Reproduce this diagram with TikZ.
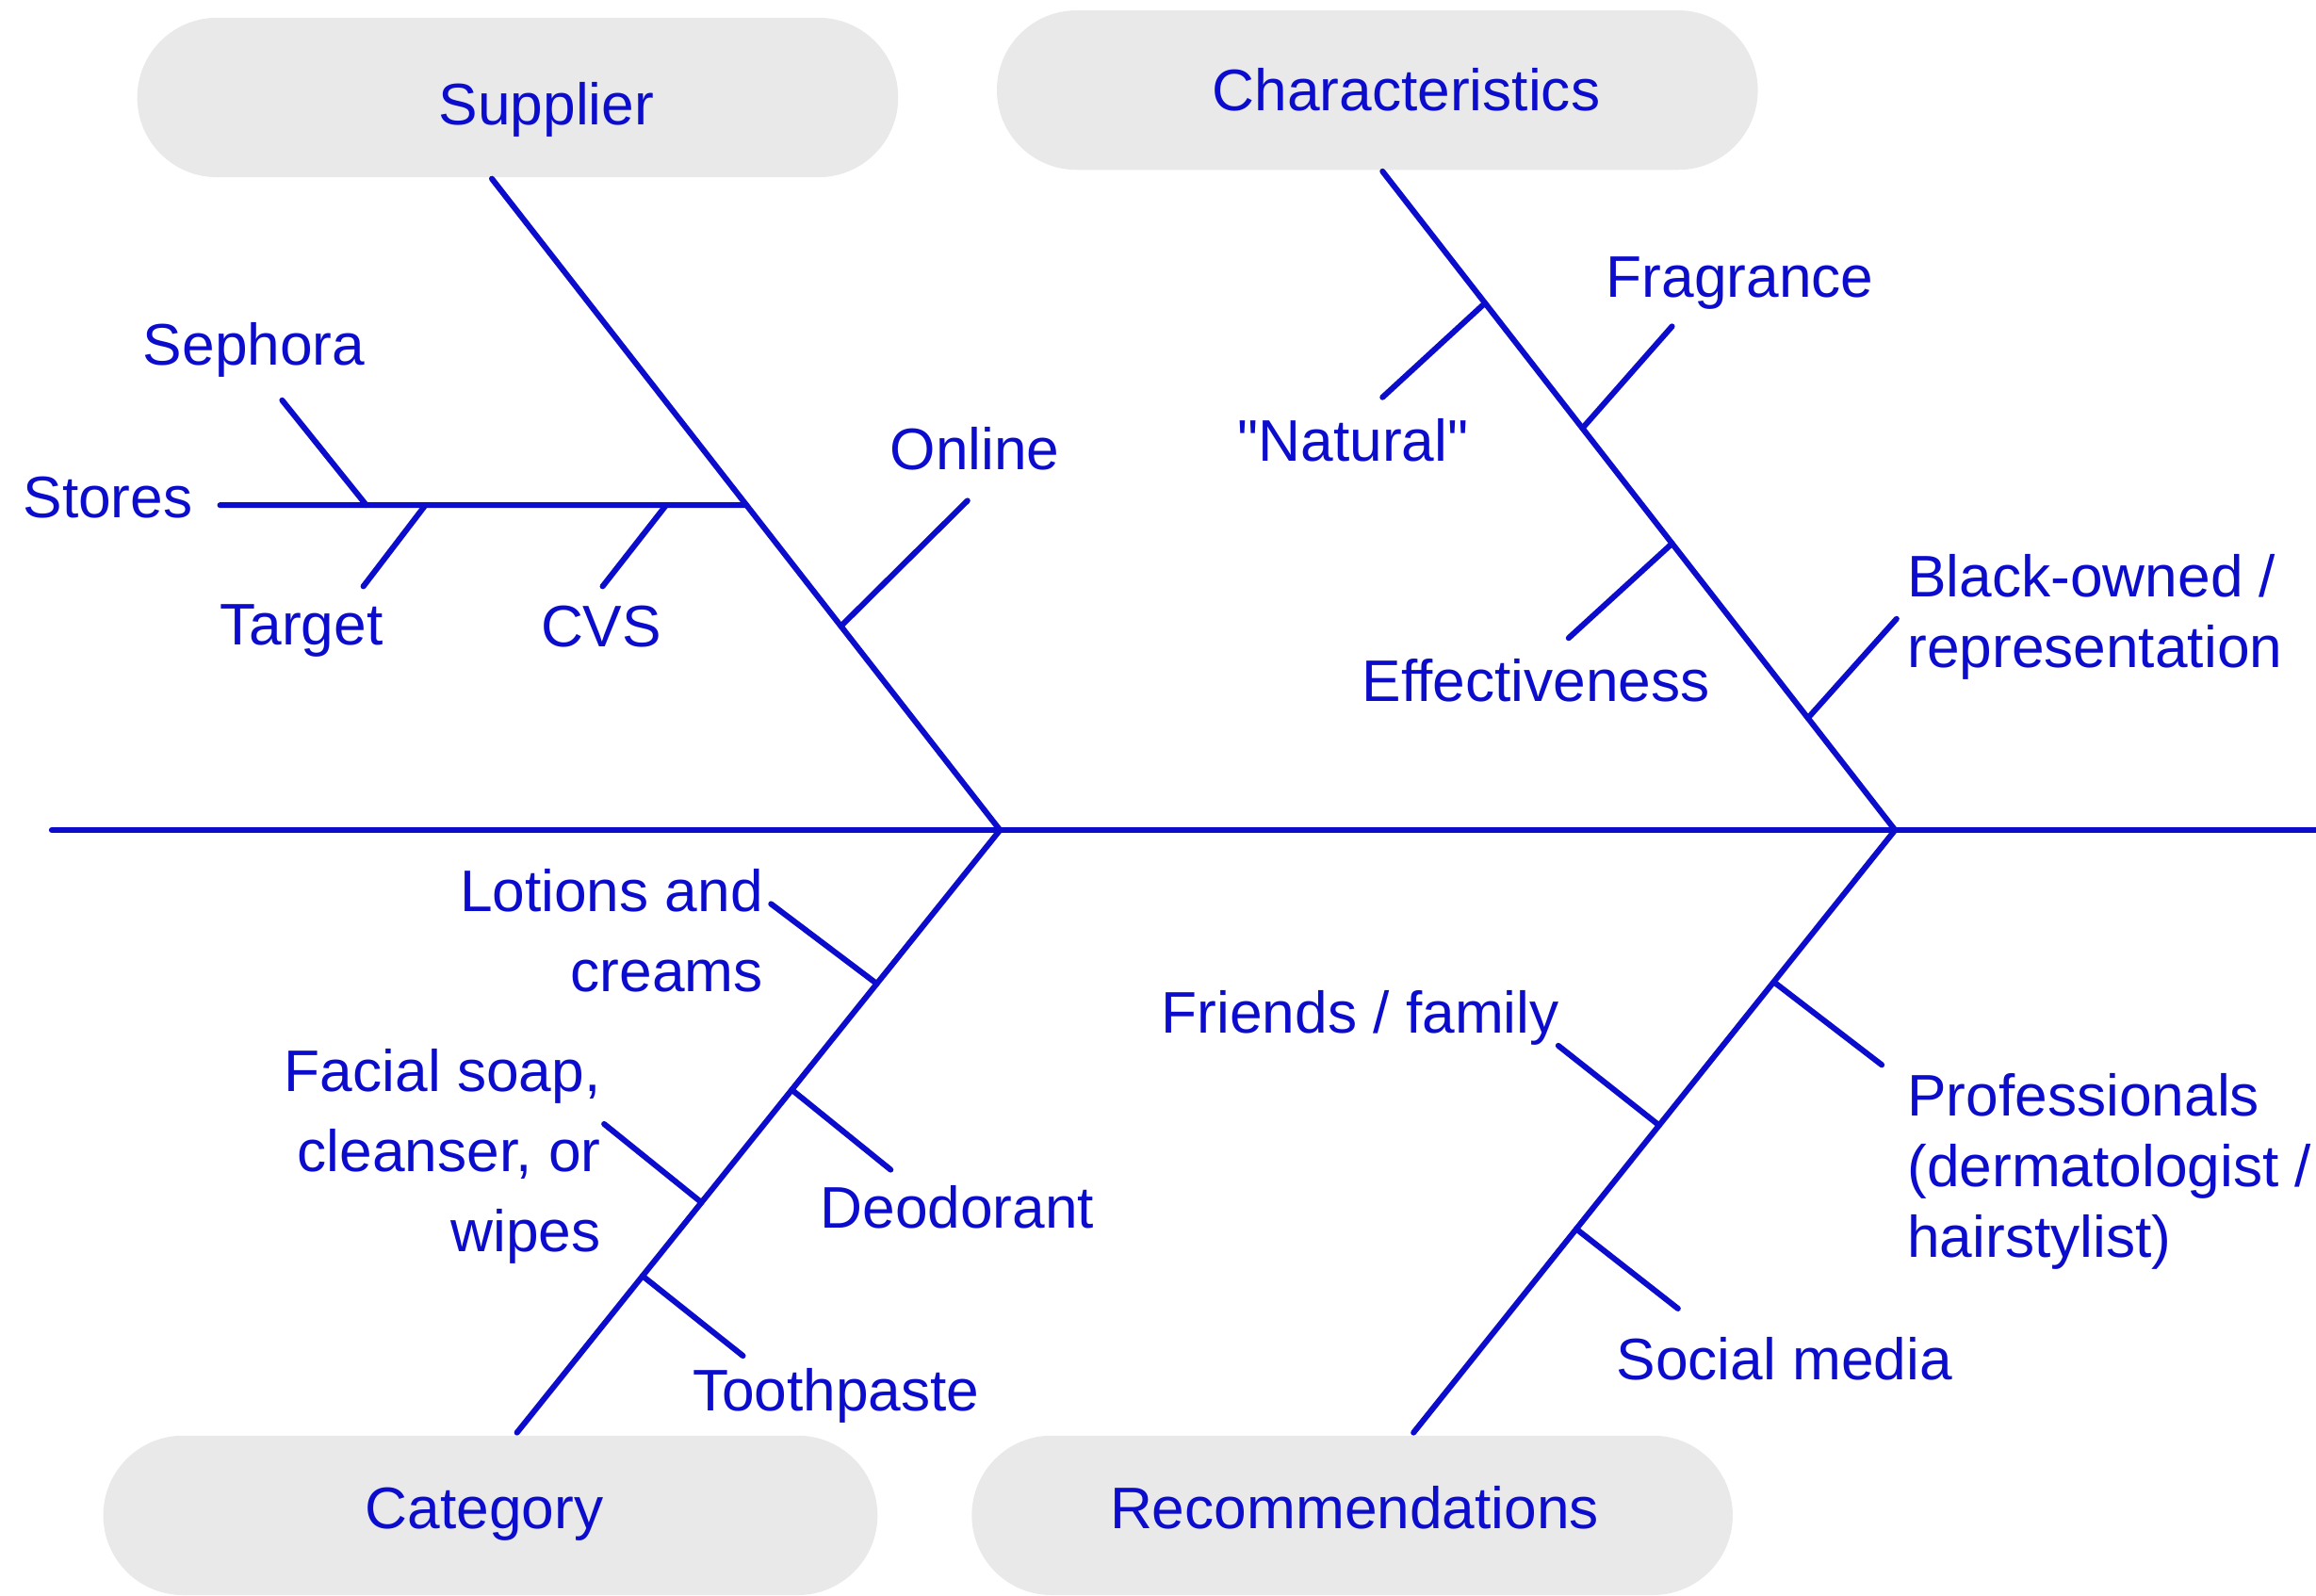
\documentclass[tikz,border=0pt]{standalone}
\usepackage{fontspec}
\setmainfont{Liberation Sans}[Ligatures=TeXOff]
\usetikzlibrary{shapes.misc}
\definecolor{fishblue}{RGB}{12,12,204}
\definecolor{headgray}{RGB}{233,233,233}
\newcommand*{\fishfont}{\fontsize{22.6}{28}\selectfont}
\tikzset{
	bone/.style = {draw=fishblue, line width=2.2pt, line cap=round},
	head/.style = {fill=headgray, rounded rectangle, minimum width=10.54cm,
		minimum height=2.16cm},
	lbl/.style  = {text=fishblue, font=\fishfont, inner sep=0pt}
}
\begin{document}
\begin{tikzpicture}[x=0.02cm, y=-0.02cm]
	\useasboundingbox (0,0) rectangle (1568,1080);
	% heads
	\node[head, label={[lbl, xshift=0.39cm, yshift=-0.16cm]center:Supplier}]
		(sup) at (350.5,66) {};
	\node[head, label={[lbl, xshift=0.39cm]center:Characteristics}]
		(cha) at (932.5,61) {};
	\node[head, minimum width=10.72cm, label={[lbl, xshift=-0.08cm, yshift=0.02cm]center:Category}]
		(cat) at (332,1026) {};
	\node[head, label={[lbl, xshift=0.03cm, yshift=0.1cm]center:Recommendations}]
		(rec) at (915.5,1026) {};
	% spine and main bones
	\coordinate (tail) at (35,562);
	\coordinate (nose) at (1568,562);
	\coordinate (jL) at (677,562);
	\coordinate (jR) at (1283,562);
	\coordinate (supT) at (333,121);
	\coordinate (chaT) at (936,116);
	\coordinate (catT) at (350,970);
	\coordinate (recT) at (957,970);
	\draw[bone] (tail) -- (nose);
	\draw[bone] (supT) -- (jL);
	\draw[bone] (chaT) -- (jR);
	\draw[bone] (jL) -- (catT);
	\draw[bone] (jR) -- (recT);
	% points on the bones
	\path (supT) -- (jL) coordinate[pos=0.501] (stoB) coordinate[pos=0.687] (onlB);
	\path (chaT) -- (jR) coordinate[pos=0.200] (natB) coordinate[pos=0.390] (fraB)
		coordinate[pos=0.565] (effB) coordinate[pos=0.830] (blaB);
	\path (jL) -- (catT) coordinate[pos=0.255] (lotB) coordinate[pos=0.431] (deoB)
		coordinate[pos=0.618] (facB) coordinate[pos=0.740] (tooB);
	\path (jR) -- (recT) coordinate[pos=0.252] (proB) coordinate[pos=0.490] (friB)
		coordinate[pos=0.662] (socB);
	\coordinate (sepB) at (248,342);
	\coordinate (tarB) at (288,342);
	\coordinate (cvsB) at (451,342);
	% free ends
	\coordinate (stoE) at (149,342);
	\coordinate (sepE) at (191,271);
	\coordinate (tarE) at (246,397);
	\coordinate (cvsE) at (408,397);
	\coordinate (onlE) at (655,339);
	\coordinate (natE) at (936,269);
	\coordinate (fraE) at (1132,221);
	\coordinate (effE) at (1062,432);
	\coordinate (blaE) at (1284,419);
	\coordinate (lotE) at (522,612);
	\coordinate (deoE) at (603,792);
	\coordinate (facE) at (409,761);
	\coordinate (tooE) at (503,918);
	\coordinate (proE) at (1274,721);
	\coordinate (friE) at (1055,708);
	\coordinate (socE) at (1136,886);
	\foreach \b in {sto,sep,tar,cvs,onl,nat,fra,eff,bla,lot,deo,fac,too,pro,fri,soc}
		\draw[bone] (\b B) -- (\b E);
	% labels
	\node[lbl] (sep) at (172,237) {Sephora};
	\node[lbl] (sto) at (73,337) {Stores};
	\node[lbl] (tar) at (204,427) {Target};
	\node[lbl] (cvs) at (407,424) {CVS};
	\node[lbl] (onl) at (660,304) {Online};
	\node[lbl] (fra) at (1178,192) {Fragrance};
	\node[lbl] (nat) at (916,298) {"Natural"};
	\node[lbl] (eff) at (1040,461) {Effectiveness};
	\node[lbl, anchor=west, align=left, font=\fontsize{22.6}{27.2}\selectfont]
		(bla) at (1291,418) {Black-owned /\\representation};
	\node[lbl, anchor=east, align=right, font=\fontsize{22.6}{30.7}\selectfont]
		(lot) at (517,630) {Lotions and\\creams};
	\node[lbl, anchor=east, align=right, font=\fontsize{22.6}{31}\selectfont]
		(fac) at (407,783) {Facial soap,\\cleanser, or\\wipes};
	\node[lbl] (deo) at (648,817) {Deodorant};
	\node[lbl] (too) at (566,945) {Toothpaste};
	\node[lbl] (fri) at (921,689) {Friends / family};
	\node[lbl, anchor=west, align=left, font=\fontsize{22.6}{27.2}\selectfont]
		(pro) at (1291,793) {Professionals\\(dermatologist /\\hairstylist)};
	\node[lbl] (soc) at (1208,920) {Social media};
\end{tikzpicture}
\end{document}
